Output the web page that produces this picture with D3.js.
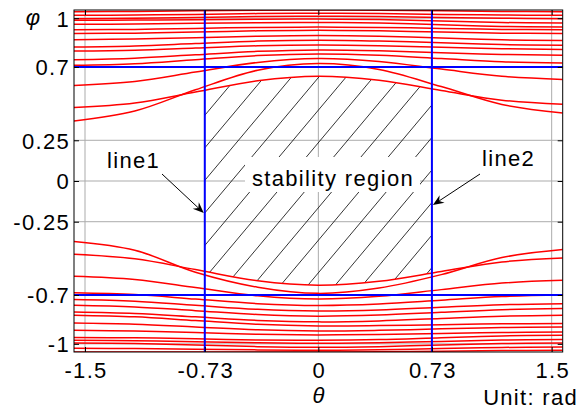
<!DOCTYPE html>
<html>
<head>
<meta charset="utf-8">
<script src="https://cdn.jsdelivr.net/npm/d3@7"></script>
<style>
  html, body { margin: 0; padding: 0; background: #fff; }
  svg { display: block; }
  text { font-family: "Liberation Sans", Arial, sans-serif; }
</style>
</head>
<body>
<svg id="chart" width="578" height="412"></svg>
<script>
// Sample angles (rad) at which each trajectory is tabulated
const thetaSamples = [-1.5708, -1.18, -0.79, -0.39, 0, 0.39, 0.79, 1.18, 1.5708];

// Upper family of trajectories, phi values at thetaSamples
const upperCurves = [
  [1.040, 1.041, 1.045, 1.049, 1.050, 1.049, 1.045, 1.041, 1.040],
  [1.017, 1.019, 1.023, 1.028, 1.030, 1.028, 1.023, 1.019, 1.017],
  [0.997, 0.999, 1.004, 1.010, 1.012, 1.010, 1.004, 0.999, 0.997],
  [0.987, 0.988, 0.990, 0.993, 0.994, 0.991, 0.982, 0.973, 0.970],
  [0.962, 0.964, 0.968, 0.972, 0.974, 0.970, 0.959, 0.949, 0.945],
  [0.929, 0.931, 0.937, 0.943, 0.945, 0.943, 0.937, 0.931, 0.929],
  [0.905, 0.908, 0.915, 0.922, 0.925, 0.922, 0.915, 0.908, 0.905],
  [0.868, 0.872, 0.880, 0.889, 0.893, 0.889, 0.878, 0.867, 0.863],
  [0.823, 0.829, 0.844, 0.859, 0.865, 0.860, 0.849, 0.838, 0.833],
  [0.798, 0.803, 0.816, 0.830, 0.835, 0.831, 0.821, 0.812, 0.808],
  [0.745, 0.754, 0.775, 0.796, 0.805, 0.800, 0.788, 0.777, 0.772],
  [0.710, 0.720, 0.745, 0.770, 0.780, 0.772, 0.752, 0.732, 0.724],
  [0.587, 0.611, 0.669, 0.728, 0.752, 0.734, 0.687, 0.643, 0.624],
  [0.368, 0.430, 0.560, 0.680, 0.721, 0.685, 0.580, 0.470, 0.417]
];
// Innermost upper trajectory (top edge of the stability region)
const upperInner = [0.451, 0.479, 0.546, 0.615, 0.643, 0.618, 0.556, 0.496, 0.471];

// Lower family of trajectories
const lowerCurves = [
  [-0.371, -0.425, -0.560, -0.652, -0.690, -0.657, -0.575, -0.470, -0.421],
  [-0.585, -0.605, -0.654, -0.705, -0.725, -0.708, -0.667, -0.627, -0.610],
  [-0.686, -0.697, -0.725, -0.753, -0.764, -0.755, -0.732, -0.709, -0.700],
  [-0.728, -0.738, -0.763, -0.788, -0.798, -0.792, -0.775, -0.760, -0.753],
  [-0.763, -0.773, -0.796, -0.820, -0.830, -0.823, -0.806, -0.790, -0.783],
  [-0.804, -0.813, -0.834, -0.856, -0.865, -0.859, -0.844, -0.830, -0.824],
  [-0.824, -0.834, -0.857, -0.880, -0.890, -0.888, -0.882, -0.877, -0.875],
  [-0.872, -0.879, -0.896, -0.914, -0.921, -0.917, -0.908, -0.900, -0.896],
  [-0.917, -0.921, -0.931, -0.941, -0.945, -0.942, -0.936, -0.930, -0.927],
  [-0.961, -0.963, -0.969, -0.976, -0.978, -0.974, -0.962, -0.951, -0.947],
  [-0.978, -0.981, -0.987, -0.993, -0.996, -0.993, -0.985, -0.977, -0.974],
  [-0.994, -0.998, -1.007, -1.017, -1.021, -1.017, -1.007, -0.998, -0.994],
  [-1.027, -1.029, -1.033, -1.037, -1.039, -1.036, -1.029, -1.022, -1.019],
  [-1.050, -1.050, -1.050, -1.050, -1.050, -1.048, -1.045, -1.041, -1.039]
];
// Innermost lower trajectory (bottom edge of the stability region)
const lowerInner = [-0.450, -0.478, -0.544, -0.613, -0.640, -0.616, -0.556, -0.497, -0.473];

// Boundary lines
const boundTheta = [-0.73, 0.73];
const boundPhi = [-0.7, 0.7];

// Ticks
const xTicks = [-1.5, -0.73, 0, 0.73, 1.5];
const xTickLabels = ["-1.5", "-0.73", "0", "0.73", "1.5"];
const yTicks = [-1, -0.7, -0.25, 0, 0.25, 0.7, 1];
const yTickLabels = ["-1", "-0.7", "-0.25", "0", "0.25", "0.7", "1"];

const svg = d3.select("#chart");
const pL = 74, pR = 562.7, pT = 10, pB = 352;

const x = d3.scaleLinear().domain([-Math.PI / 2, Math.PI / 2]).range([pL, pR]);
const y = d3.scaleLinear().domain([-1.05, 1.05]).range([pB, pT]);

const defs = svg.append("defs");
defs.append("clipPath").attr("id", "plotClip")
  .append("rect").attr("x", pL).attr("y", pT)
  .attr("width", pR - pL).attr("height", pB - pT);

const curveType = d3.curveCatmullRom.alpha(0.5);

// Clip for the hatched stability region: between inner trajectories and boundary lines
defs.append("clipPath").attr("id", "bandClip")
  .append("path")
  .attr("d", d3.area()
    .x((d, i) => x(thetaSamples[i]))
    .y0((d, i) => y(lowerInner[i]))
    .y1((d, i) => y(upperInner[i]))
    .curve(curveType)(thetaSamples));
defs.append("clipPath").attr("id", "thetaClip")
  .append("rect").attr("x", x(boundTheta[0])).attr("y", pT)
  .attr("width", x(boundTheta[1]) - x(boundTheta[0])).attr("height", pB - pT);

// Grid
const grid = svg.append("g").attr("stroke", "#ababab").attr("stroke-width", 1);
grid.selectAll(".gx").data(xTicks).join("line").attr("class", "gx")
  .attr("x1", d => x(d)).attr("x2", d => x(d)).attr("y1", pT).attr("y2", pB);
grid.selectAll(".gy").data(yTicks).join("line").attr("class", "gy")
  .attr("y1", d => y(d)).attr("y2", d => y(d)).attr("x1", pL).attr("x2", pR);

// Hatching
const hatch = svg.append("g").attr("clip-path", "url(#thetaClip)")
  .append("g").attr("clip-path", "url(#bandClip)");
const ang = 50 * Math.PI / 180, ca = Math.cos(ang), sa = Math.sin(ang);
const hatchStep = 27.3, ax = 293.3, ay = 140;
const hatchIdx = d3.range(-14, 15);
hatch.selectAll("line").data(hatchIdx).join("line")
  .attr("x1", k => ax + k * hatchStep - 260 * ca)
  .attr("y1", ay + 260 * sa)
  .attr("x2", k => ax + k * hatchStep + 260 * ca)
  .attr("y2", ay - 260 * sa)
  .attr("stroke", "#000").attr("stroke-width", 0.8);

// Label box for the region name
const regionLabel = svg.append("g");
regionLabel.append("rect")
  .attr("x", 245).attr("y", 157).attr("width", 175).attr("height", 35)
  .attr("fill", "#fff");
regionLabel.append("text")
  .attr("x", 333).attr("y", 186).attr("text-anchor", "middle")
  .attr("font-size", 22).attr("letter-spacing", 1.35)
  .text("stability region");

// Trajectories
const line = d3.line()
  .x((d, i) => x(thetaSamples[i]))
  .y(d => y(d))
  .curve(curveType);
const traj = svg.append("g").attr("clip-path", "url(#plotClip)")
  .attr("fill", "none").attr("stroke", "#ff0000").attr("stroke-width", 1.5);
traj.selectAll(".up").data(upperCurves.concat([upperInner])).join("path")
  .attr("class", "up").attr("d", line);
traj.selectAll(".lo").data(lowerCurves.concat([lowerInner])).join("path")
  .attr("class", "lo").attr("d", line);

// Boundary lines
const bounds = svg.append("g").attr("stroke", "#0000ff").attr("stroke-width", 2);
bounds.selectAll(".bv").data(boundTheta).join("line").attr("class", "bv")
  .attr("x1", d => x(d)).attr("x2", d => x(d)).attr("y1", pT).attr("y2", pB);
bounds.selectAll(".bh").data(boundPhi).join("line").attr("class", "bh")
  .attr("y1", d => y(d)).attr("y2", d => y(d)).attr("x1", pL).attr("x2", pR);

// Axes (inward ticks on all four sides)
const fs = 22, ls = 1.3;
const axL = svg.append("g").attr("transform", `translate(${pL},0)`)
  .call(d3.axisLeft(y).tickValues(yTicks).tickSizeInner(-5).tickSizeOuter(0).tickPadding(4)
    .tickFormat((d, i) => yTickLabels[i]));
const axB = svg.append("g").attr("transform", `translate(0,${pB})`)
  .call(d3.axisBottom(x).tickValues(xTicks).tickSizeInner(-5).tickSizeOuter(0).tickPadding(10)
    .tickFormat((d, i) => xTickLabels[i]));
const axR = svg.append("g").attr("transform", `translate(${pR},0)`)
  .call(d3.axisRight(y).tickValues(yTicks).tickSizeInner(-5).tickSizeOuter(0).tickFormat(""));
const axT = svg.append("g").attr("transform", `translate(0,${pT})`)
  .call(d3.axisTop(x).tickValues(xTicks).tickSizeInner(-5).tickSizeOuter(0).tickFormat(""));
[axL, axB, axR, axT].forEach(a => {
  a.select(".domain").remove();
  a.selectAll(".tick line").attr("stroke", "#000");
  a.selectAll("text").attr("font-size", fs).attr("font-family", "Liberation Sans, Arial, sans-serif")
    .attr("fill", "#000").attr("letter-spacing", ls);
});
axL.selectAll("text").attr("dy", "0.36em");
axB.selectAll("text").attr("dx", "0.5px");

// Plot frame
svg.append("rect").attr("x", pL).attr("y", pT)
  .attr("width", pR - pL).attr("height", pB - pT)
  .attr("fill", "none").attr("stroke", "#000").attr("stroke-width", 1);

// Axis names
svg.append("text").attr("x", 33).attr("y", 25).attr("text-anchor", "middle")
  .attr("font-size", 22).attr("font-style", "italic").text("φ");
svg.append("text").attr("x", x(0)).attr("y", 403).attr("text-anchor", "middle")
  .attr("font-size", 22).attr("font-style", "italic").text("θ");
svg.append("text").attr("x", 578).attr("y", 405).attr("text-anchor", "end")
  .attr("font-size", fs).attr("letter-spacing", ls).text("Unit: rad");

// Callouts pointing to the boundary lines
function arrow(x0, y0, x1, y1) {
  const g = svg.append("g");
  const dx = x1 - x0, dy = y1 - y0, len = Math.hypot(dx, dy);
  const ux = dx / len, uy = dy / len, nx = -uy, ny = ux;
  const L = 11, Wd = 4.5, ind = 3.5;
  g.append("line").attr("x1", x0).attr("y1", y0)
    .attr("x2", x1 - ux * (L - ind)).attr("y2", y1 - uy * (L - ind))
    .attr("stroke", "#000").attr("stroke-width", 1);
  const p = [
    [x1, y1],
    [x1 - ux * L + nx * Wd, y1 - uy * L + ny * Wd],
    [x1 - ux * (L - ind), y1 - uy * (L - ind)],
    [x1 - ux * L - nx * Wd, y1 - uy * L - ny * Wd]
  ];
  g.append("path").attr("d", "M" + p.map(q => q.join(",")).join("L") + "Z").attr("fill", "#000");
}
svg.append("text").attr("x", 107).attr("y", 168).attr("font-size", fs)
  .attr("letter-spacing", ls).text("line1");
arrow(162, 174, x(boundTheta[0]) - 1, 213);
svg.append("text").attr("x", 482).attr("y", 166).attr("font-size", fs)
  .attr("letter-spacing", ls).text("line2");
arrow(480, 174, x(boundTheta[1]) + 1, 205);
</script>
</body>
</html>
